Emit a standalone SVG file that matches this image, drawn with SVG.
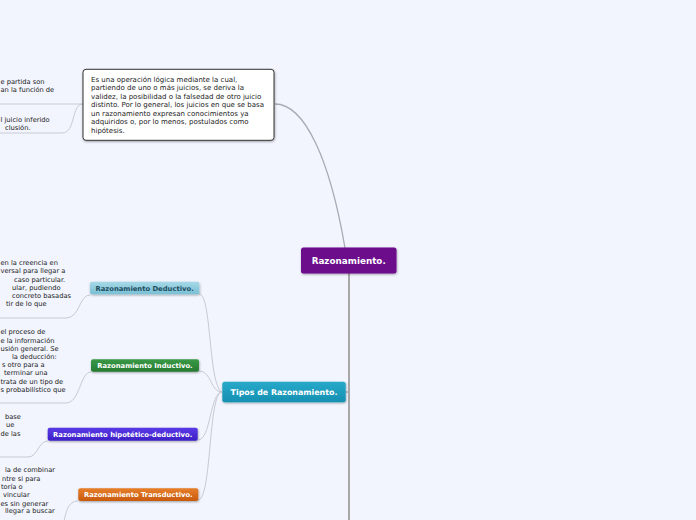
<svg xmlns="http://www.w3.org/2000/svg" width="696" height="520" viewBox="0 0 696 520">
<defs>
<filter id="sh" x="-10%" y="-20%" width="120%" height="160%">
<feDropShadow dx="0.5" dy="1" stdDeviation="0.8" flood-color="#000" flood-opacity="0.35"/>
</filter>
<linearGradient id="gTip" x1="0" y1="0" x2="0" y2="1"><stop offset="0" stop-color="#28a9c9"/><stop offset="1" stop-color="#1590b2"/></linearGradient>
<linearGradient id="gDed" x1="0" y1="0" x2="0" y2="1"><stop offset="0" stop-color="#a6d9e8"/><stop offset="1" stop-color="#79bfd4"/></linearGradient>
<linearGradient id="gInd" x1="0" y1="0" x2="0" y2="1"><stop offset="0" stop-color="#3a9a47"/><stop offset="1" stop-color="#257a31"/></linearGradient>
<linearGradient id="gHip" x1="0" y1="0" x2="0" y2="1"><stop offset="0" stop-color="#5a3ae6"/><stop offset="1" stop-color="#3d1fc6"/></linearGradient>
<linearGradient id="gTra" x1="0" y1="0" x2="0" y2="1"><stop offset="0" stop-color="#e67e2a"/><stop offset="1" stop-color="#c95a0c"/></linearGradient>
</defs>
<style>
.note{font-family:"DejaVu Sans",Verdana,sans-serif;font-size:6.7px;fill:#222}
.def{font-family:"DejaVu Sans",Verdana,sans-serif;font-size:7px;fill:#222}
.lbl{font-family:"DejaVu Sans",Verdana,sans-serif;font-weight:bold;fill:#fff;text-anchor:middle}
.thin{fill:none;stroke:#c8cad3;stroke-width:1}
.main{fill:none;stroke:#a9abb2;stroke-width:1.3}
</style>
<rect width="696" height="520" fill="#f2f5fe"/>
<g id="connectors">
<path class="main" d="M275 104 C305 104 330 160 345 248"/>
<path d="M349 273 L349 520" fill="none" stroke="#a8a8ab" stroke-width="2"/>
<path class="main" d="M345.5 392 L349 392"/>
<path class="thin" d="M83 104 L0 104"/>
<path class="thin" d="M83 104 C71 104 76 133 62 133 L0 133"/>
<path class="thin" d="M199 294 C212 294 208 385 222 392"/>
<path class="thin" d="M199 371 C212 371 210 392 222 392"/>
<path class="thin" d="M198 440 C211 440 210 392 222 392"/>
<path class="thin" d="M198 500 C212 500 208 392 222 392"/>
<path class="thin" d="M90 295 C79 295 80 318 66 318 L0 318"/>
<path class="thin" d="M91 372 C80 372 80 403 66 403 L0 403"/>
<path class="thin" d="M48 441 C38 441 38 457 28 457 L0 457"/>
<path class="thin" d="M78 501 C68 501 66 512 63 525"/>
</g>
<g id="definicion">
<rect x="83" y="69.3" width="191" height="71" rx="3" fill="#fff" stroke="#333" stroke-width="1" filter="url(#sh)"/>
<text class="def" x="91" y="81.6">Es una operación lógica mediante la cual,</text>
<text class="def" x="91" y="90.2">partiendo de uno o más juicios, se deriva la</text>
<text class="def" x="91" y="98.7">validez, la posibilidad o la falsedad de otro juicio</text>
<text class="def" x="91" y="107.3">distinto. Por lo general, los juicios en que se basa</text>
<text class="def" x="91" y="115.9">un razonamiento expresan conocimientos ya</text>
<text class="def" x="91" y="124.4">adquiridos o, por lo menos, postulados como</text>
<text class="def" x="91" y="133">hipótesis.</text>
</g>
<g id="def-nota1">
<text class="note" x="0.5" y="84">e partida son</text>
<text class="note" x="0.5" y="92">an la función de</text>
</g>
<g id="def-nota2">
<text class="note" x="0.5" y="121.5">l juicio inferido</text>
<text class="note" x="5" y="129.5">clusión.</text>
</g>
<g id="razonamiento">
<rect x="301" y="247.5" width="95.5" height="26" rx="2.5" fill="#6c0b8b" filter="url(#sh)"/>
<text class="lbl" x="348.7" y="263.6" font-size="8.8">Razonamiento.</text>
</g>
<g id="tipos">
<rect x="222.3" y="381.7" width="123.4" height="20.6" rx="2.5" fill="url(#gTip)" filter="url(#sh)"/>
<text class="lbl" x="284" y="394.8" font-size="7.9">Tipos de Razonamiento.</text>
</g>
<g id="deductivo">
<rect x="90" y="281.7" width="109.3" height="12.6" rx="2" fill="url(#gDed)" filter="url(#sh)"/>
<text class="lbl" x="144.6" y="290.6" font-size="6.8" style="fill:#1e4d5e">Razonamiento Deductivo.</text>
</g>
<g id="deductivo-nota">
<text class="note" x="0.5" y="265.3">en la creencia en</text>
<text class="note" x="0.5" y="273.3">versal para llegar a</text>
<text class="note" x="14" y="281.5">caso particular.</text>
<text class="note" x="12" y="289.8">ular, pudiendo</text>
<text class="note" x="12" y="298.2">concreto basadas</text>
<text class="note" x="6" y="306.4">tir de lo que</text>
</g>
<g id="inductivo">
<rect x="91" y="359.3" width="108" height="12.4" rx="2" fill="url(#gInd)" filter="url(#sh)"/>
<text class="lbl" x="145" y="368.1" font-size="6.8">Razonamiento Inductivo.</text>
</g>
<g id="inductivo-nota">
<text class="note" x="0.5" y="334.3">el proceso de</text>
<text class="note" x="0.5" y="342.5">e la información</text>
<text class="note" x="0.5" y="350.7">usión general. Se</text>
<text class="note" x="12" y="358.9">la deducción:</text>
<text class="note" x="2" y="367.1">s otro para a</text>
<text class="note" x="4" y="375.3">terminar una</text>
<text class="note" x="0.5" y="383.5">trata de un tipo de</text>
<text class="note" x="0.5" y="391.7">s probabilístico que</text>
</g>
<g id="hipotetico">
<rect x="47.7" y="427.7" width="150" height="13" rx="2" fill="url(#gHip)" filter="url(#sh)"/>
<text class="lbl" x="122.7" y="436.7" font-size="6.8">Razonamiento hipotético-deductivo.</text>
</g>
<g id="hipotetico-nota">
<text class="note" x="5" y="419">base</text>
<text class="note" x="6" y="427.3">ue</text>
<text class="note" x="0.5" y="435.6">de las</text>
</g>
<g id="transductivo">
<rect x="78.3" y="488.3" width="120" height="12.7" rx="2" fill="url(#gTra)" filter="url(#sh)"/>
<text class="lbl" x="138.3" y="497.2" font-size="6.8">Razonamiento Transductivo.</text>
</g>
<g id="transductivo-nota">
<text class="note" x="5" y="472.3">la de combinar</text>
<text class="note" x="2" y="480.6">ntre si para</text>
<text class="note" x="1" y="488.9">toría o</text>
<text class="note" x="3" y="497.2">vincular</text>
<text class="note" x="0.5" y="505.5">es sin generar</text>
<text class="note" x="5" y="513.2">llegar a buscar</text>
</g>
</svg>
